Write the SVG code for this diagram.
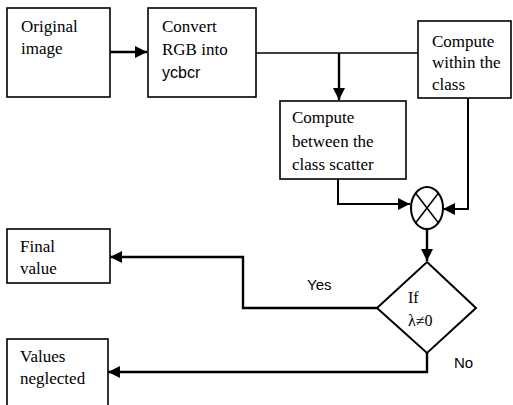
<svg xmlns="http://www.w3.org/2000/svg" width="513" height="405" viewBox="0 0 513 405">
<defs>
<marker id="ah" markerWidth="12" markerHeight="12" refX="12" refY="6" orient="auto" markerUnits="userSpaceOnUse">
<path d="M0,0 L12,6 L0,12 Z" fill="#000"/>
</marker>
<style>
.box{fill:#fff;stroke:#000;stroke-width:1.6}
.t{font-family:'Liberation Serif','Times New Roman','DejaVu Serif',serif;font-size:17px;fill:#000}
.s{font-family:'Liberation Sans',Arial,sans-serif;font-size:16px;fill:#000}
.c{fill:none;stroke:#000;stroke-width:2.4}
</style>
</defs>
<rect width="513" height="405" fill="#fff"/>
<g id="connectors">
<path class="c" d="M110,52 H147" marker-end="url(#ah)"/>
<path class="c" d="M256,53 H418" style="stroke-width:1.6"/>
<path class="c" d="M339,53 V100" marker-end="url(#ah)"/>
<path class="c" d="M338,179 V204 H410" style="stroke-width:2" marker-end="url(#ah)"/>
<path class="c" d="M468,98 V209 H443" style="stroke-width:2" marker-end="url(#ah)"/>
<path class="c" d="M427,229 V261" marker-end="url(#ah)"/>
<path class="c" d="M377,308 H243 V257 H110" marker-end="url(#ah)"/>
<path class="c" d="M427,353 V372 H108" marker-end="url(#ah)"/>
</g>
<g id="original">
<rect class="box" x="7" y="8" width="103" height="89"/>
<text class="t" font-family="Liberation Serif, serif" x="21" y="32">Original</text>
<text class="t" font-family="Liberation Serif, serif" x="21" y="54">image</text>
</g>
<g id="convert">
<rect class="box" x="148" y="8" width="108" height="89"/>
<text class="t" font-family="Liberation Serif, serif" x="162" y="32">Convert</text>
<text class="t" font-family="Liberation Serif, serif" x="162" y="55">RGB into</text>
<text class="s" x="162" y="78">ycbcr</text>
</g>
<g id="within">
<rect class="box" x="418" y="21" width="93" height="77"/>
<text class="t" font-family="Liberation Serif, serif" x="432" y="47">Compute</text>
<text class="t" font-family="Liberation Serif, serif" x="432" y="68">within the</text>
<text class="t" font-family="Liberation Serif, serif" x="432" y="90">class</text>
</g>
<g id="between">
<rect class="box" x="280" y="101" width="126" height="78"/>
<text class="t" font-family="Liberation Serif, serif" x="292" y="123">Compute</text>
<text class="t" font-family="Liberation Serif, serif" x="292" y="147">between the</text>
<text class="t" font-family="Liberation Serif, serif" x="292" y="170">class scatter</text>
</g>
<g id="multiply">
<ellipse cx="427" cy="208" rx="16" ry="21" fill="#fff" stroke="#000" stroke-width="2"/>
<path d="M415.7,193.2 L438.3,222.8 M438.3,193.2 L415.7,222.8" stroke="#000" stroke-width="1.6"/>
</g>
<g id="decision">
<polygon points="427,262 476,308 427,353 377,308" fill="#fff" stroke="#000" stroke-width="2"/>
<text class="t" font-family="Liberation Serif, serif" x="408" y="303" style="font-size:16px">If</text>
<text class="t" font-family="Liberation Serif, serif" x="408" y="326" style="font-size:16px">λ≠0</text>
</g>
<g id="final">
<rect class="box" x="7" y="229" width="103" height="54"/>
<text class="t" font-family="Liberation Serif, serif" x="20" y="252">Final</text>
<text class="t" font-family="Liberation Serif, serif" x="20" y="274">value</text>
</g>
<g id="neglected">
<rect class="box" x="7" y="339" width="101" height="70"/>
<text class="t" font-family="Liberation Serif, serif" x="20" y="362">Values</text>
<text class="t" font-family="Liberation Serif, serif" x="20" y="384">neglected</text>
</g>
<g id="labels">
<text class="s" x="307" y="290" style="font-size:15px">Yes</text>
<text class="s" x="454" y="368" style="font-size:15px">No</text>
</g>
</svg>
